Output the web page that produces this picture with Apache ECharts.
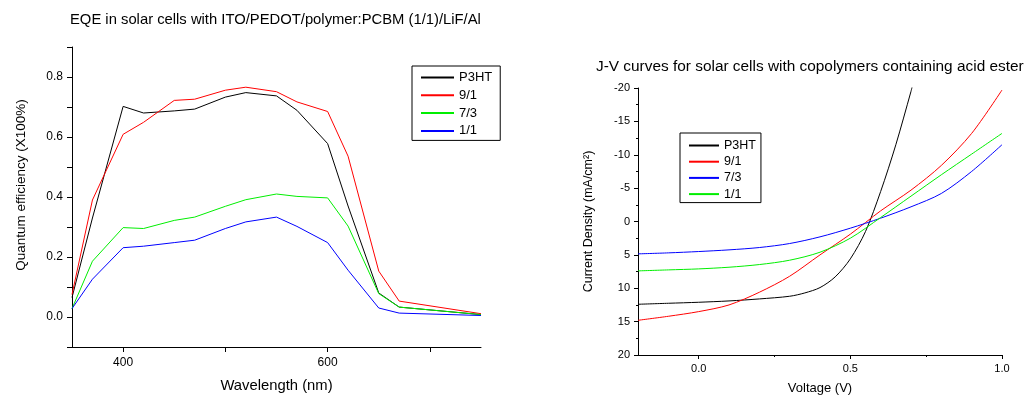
<!DOCTYPE html>
<html>
<head>
<meta charset="utf-8">
<script src="https://cdn.jsdelivr.net/npm/echarts@6/dist/echarts.min.js"></script>
<style>
  html, body { margin: 0; padding: 0; background: #fff; }
  #eqe { position: absolute; left: 0; top: 0; width: 560px; height: 395px; }
  #jv { position: absolute; left: 560px; top: 0; width: 468px; height: 395px; }
</style>
</head>
<body>
<div id="eqe"></div>
<div id="jv"></div>
<script>
// EQE data (wavelength nm -> quantum efficiency)
const wavelengths = [350, 370, 400, 420, 450, 470, 500, 520, 550, 570, 600, 620, 650, 670, 750];
const eqeP3HT = [0.065, 0.33, 0.702, 0.68, 0.687, 0.693, 0.733, 0.748, 0.737, 0.689, 0.578, 0.37, 0.08, 0.033, 0.008];
const eqe91 = [0.075, 0.39, 0.609, 0.649, 0.722, 0.726, 0.756, 0.766, 0.751, 0.717, 0.685, 0.536, 0.153, 0.053, 0.011];
const eqe73 = [0.028, 0.186, 0.298, 0.295, 0.322, 0.333, 0.369, 0.391, 0.41, 0.402, 0.397, 0.303, 0.078, 0.033, 0.008];
const eqe11 = [0.028, 0.126, 0.231, 0.236, 0.248, 0.256, 0.295, 0.317, 0.333, 0.302, 0.248, 0.156, 0.03, 0.013, 0.005];

// J-V data (voltage V -> current density mA/cm2)
const voltage = [-0.2, -0.1, 0, 0.1, 0.2, 0.3, 0.4, 0.5, 0.6, 0.7, 0.8, 0.9, 1.0];
const jv91 = [14.8, 14.2, 13.5, 12.5, 10.6, 8.2, 5.0, 1.9, -1.6, -4.7, -8.4, -13.2, -19.7];
const jv73 = [4.85, 4.7, 4.5, 4.25, 3.9, 3.3, 2.3, 1.0, -0.5, -2.2, -4.2, -7.5, -11.5];
const jv11 = [7.4, 7.25, 7.1, 6.85, 6.45, 5.8, 4.6, 2.5, -0.6, -3.8, -7.0, -10.1, -13.2];
const voltageP3HT = [-0.2, -0.1, 0, 0.1, 0.2, 0.3, 0.35, 0.4, 0.45, 0.5, 0.55, 0.6, 0.65, 0.7, 0.705];
const jvP3HT = [12.4, 12.25, 12.1, 11.9, 11.6, 11.2, 10.7, 9.9, 8.3, 5.6, 1.5, -4.5, -11.5, -19.5, -20.4];

const font = 'Liberation Sans, Arial, sans-serif';
const pair = (xs, ys) => xs.map((x, i) => [x, ys[i]]);

function line(name, color, xs, ys, smooth) {
  return {
    name: name, type: 'line', data: pair(xs, ys),
    symbol: 'none', smooth: smooth ? 0.3 : false,
    lineStyle: { color: color, width: 1 }, itemStyle: { color: color }
  };
}

const axisBase = {
  axisLine: { onZero: false, lineStyle: { color: '#000', width: 1 } },
  splitLine: { show: false }
};

// left chart
const eqe = echarts.init(document.getElementById('eqe'));
eqe.setOption({
  animation: false,
  title: {
    text: 'EQE in solar cells with ITO/PEDOT/polymer:PCBM (1/1)/LiF/Al',
    left: 70, top: 12, padding: 0,
    textStyle: { fontFamily: font, fontSize: 14.8, fontWeight: 'normal', color: '#000' }
  },
  legend: {
    orient: 'vertical', left: 412, top: 66,
    padding: [5, 8, 3, 8], itemWidth: 33, itemHeight: 14, itemGap: 4.8,
    borderColor: '#000', borderWidth: 1,
    itemStyle: { opacity: 0 },
    textStyle: { fontFamily: font, fontSize: 13, color: '#000' },
    data: ['P3HT', '9/1', '7/3', '1/1']
  },
  grid: { left: 72, top: 47, right: 79, bottom: 48, outerBoundsMode: 'none' },
  xAxis: Object.assign({}, axisBase, {
    type: 'value', min: 350, max: 750,
    name: 'Wavelength (nm)', nameLocation: 'middle', nameGap: 31,
    nameTextStyle: { fontFamily: font, fontSize: 14.8, color: '#000' },
    axisTick: { length: 5, lineStyle: { color: '#000' }, customValues: [400, 500, 600, 700] },
    axisLabel: { margin: 10, fontFamily: font, fontSize: 12, color: '#000', customValues: [400, 600] }
  }),
  yAxis: Object.assign({}, axisBase, {
    type: 'value', min: -0.1, max: 0.9, interval: 0.1,
    name: 'Quantum efficiency (X100%)', nameLocation: 'middle', nameGap: 44,
    nameTextStyle: { fontFamily: font, fontSize: 13.5, color: '#000', padding: [0, 0, 0, 24] },
    axisTick: { length: 5, lineStyle: { color: '#000' } },
    axisLabel: {
      margin: 9, fontFamily: font, fontSize: 12, color: '#000',
      formatter: v => {
        const k = Math.round(v * 10);
        return (k >= 0 && k <= 8 && k % 2 === 0) ? (k / 10).toFixed(1) : '';
      }
    }
  }),
  series: [
    line('P3HT', '#000000', wavelengths, eqeP3HT),
    line('9/1', '#ff0000', wavelengths, eqe91),
    line('7/3', '#00ee00', wavelengths, eqe73),
    line('1/1', '#0000ff', wavelengths, eqe11)
  ]
});

// right chart
const jv = echarts.init(document.getElementById('jv'));
jv.setOption({
  animation: false,
  title: {
    text: 'J-V curves for solar cells with copolymers containing acid ester',
    left: 36, top: 59, padding: 0,
    textStyle: { fontFamily: font, fontSize: 15.4, fontWeight: 'normal', color: '#000' }
  },
  legend: {
    orient: 'vertical', left: 120, top: 133,
    padding: [6, 5, 2, 8], itemWidth: 30, itemHeight: 12, itemGap: 3.2,
    borderColor: '#000', borderWidth: 1,
    itemStyle: { opacity: 0 },
    textStyle: { fontFamily: font, fontSize: 12.5, color: '#000' },
    data: ['P3HT', '9/1', '7/3', '1/1']
  },
  grid: { left: 78, top: 88, right: 26, bottom: 40, outerBoundsMode: 'none' },
  xAxis: [
    Object.assign({}, axisBase, {
      type: 'value', min: -0.2, max: 1.0,
      name: 'Voltage (V)', nameLocation: 'middle', nameGap: 27,
      nameTextStyle: { fontFamily: font, fontSize: 13, color: '#000' },
      axisTick: { length: 4, lineStyle: { color: '#000' }, customValues: [0, 0.5, 1.0] },
      axisLabel: { margin: 8, fontFamily: font, fontSize: 11, color: '#000',
        customValues: [0, 0.5, 1.0], formatter: v => v.toFixed(1) }
    }),
    {
      type: 'value', min: -0.2, max: 1.0, position: 'bottom', gridIndex: 0,
      axisLine: { show: false, onZero: false }, splitLine: { show: false }, axisLabel: { show: false },
      axisTick: { length: 2, lineStyle: { color: '#000' }, customValues: [0.25, 0.75] }
    }
  ],
  yAxis: Object.assign({}, axisBase, {
    type: 'value', min: -20, max: 20, interval: 5, inverse: true,
    name: 'Current Density (mA/cm²)', nameLocation: 'middle', nameGap: 43,
    nameTextStyle: { fontFamily: font, fontSize: 12.5, color: '#000' },
    axisTick: { length: 4, lineStyle: { color: '#000' } },
    minorTick: { show: true, splitNumber: 2, length: 2, lineStyle: { color: '#000' } },
    axisLabel: { margin: 8, fontFamily: font, fontSize: 11, color: '#000' }
  }),
  series: [
    line('P3HT', '#000000', voltageP3HT, jvP3HT, true),
    line('9/1', '#ff0000', voltage, jv91, true),
    line('7/3', '#0000ff', voltage, jv73, true),
    line('1/1', '#00ee00', voltage, jv11, true)
  ]
});
</script>
</body>
</html>
